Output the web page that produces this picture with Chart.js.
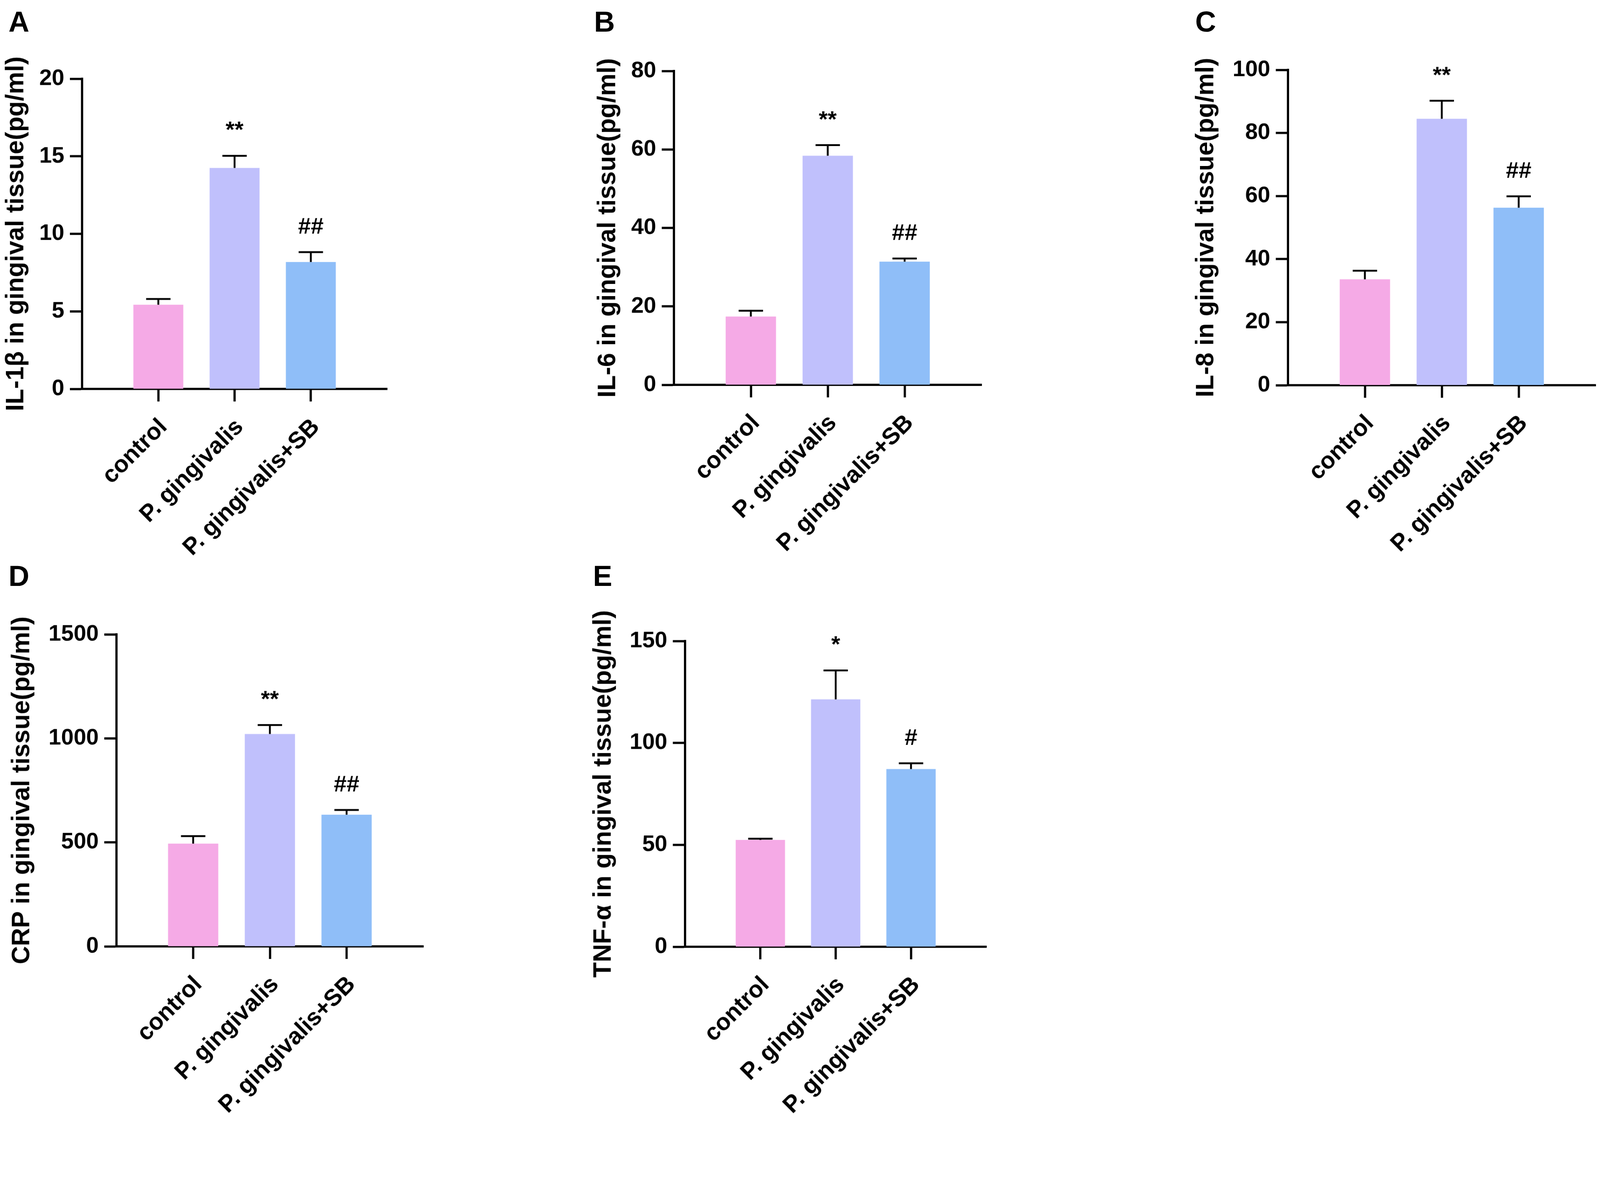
<!DOCTYPE html>
<html>
<head>
<meta charset="utf-8">
<script src="https://cdn.jsdelivr.net/npm/chart.js@4.4.1/dist/chart.umd.min.js"></script>
<style>
  html, body { margin: 0; padding: 0; background: #ffffff; overflow: hidden; }
  #stage { position: absolute; left: 0; top: 0; width: 4328px; height: 3026px; transform-origin: 0 0; background: #fff; }
  canvas.panel { position: absolute; }
  .letter { position: absolute; font: bold 78px "Liberation Sans", Arial, sans-serif; line-height: 1; color: #000; }
</style>
</head>
<body>
<div id="stage">
  <div class="letter" style="left:23px;top:20px;">A</div>
  <div class="letter" style="left:1607px;top:20px;">B</div>
  <div class="letter" style="left:3233px;top:20px;">C</div>
  <div class="letter" style="left:23px;top:1519px;">D</div>
  <div class="letter" style="left:1604px;top:1519px;">E</div>

  <canvas id="cA" class="panel"></canvas>
  <canvas id="cB" class="panel"></canvas>
  <canvas id="cC" class="panel"></canvas>
  <canvas id="cD" class="panel"></canvas>
  <canvas id="cE" class="panel"></canvas>
</div>

<script>
// ---------------- DATA ----------------
const categories = ['control', 'P. gingivalis', 'P. gingivalis+SB'];
const barColors = ['#F5AAE6', '#C0C0FC', '#8FBEF8'];

const il1bMean = [5.43, 14.25, 8.18];
const il1bSem  = [0.37, 0.78, 0.64];
const il1bSig  = ['', '**', '##'];
const il1bTicks = [0, 5, 10, 15, 20];

const il6Mean = [17.4, 58.4, 31.4];
const il6Sem  = [1.5, 2.7, 0.8];
const il6Sig  = ['', '**', '##'];
const il6Ticks = [0, 20, 40, 60, 80];

const il8Mean = [33.6, 84.5, 56.3];
const il8Sem  = [2.7, 5.7, 3.6];
const il8Sig  = ['', '**', '##'];
const il8Ticks = [0, 20, 40, 60, 80, 100];

const crpMean = [494, 1021, 633];
const crpSem  = [36, 43, 23];
const crpSig  = ['', '**', '##'];
const crpTicks = [0, 500, 1000, 1500];

const tnfMean = [52.4, 121.4, 87.2];
const tnfSem  = [0.6, 14.2, 2.8];
const tnfSig  = ['', '*', '#'];
const tnfTicks = [0, 50, 100, 150];

// ---------------- FIT PAGE TO VIEWPORT ----------------
(function fitStage() {
  const st = document.getElementById('stage');
  const s = Math.min(window.innerWidth / 4328, window.innerHeight / 3026);
  st.style.transform = 'scale(' + s + ')';
})();

const FONT = '"Liberation Sans", Arial, Helvetica, sans-serif';

const errPlugin = {
  id: 'errbars',
  afterDatasetsDraw(chart, args, opts) {
    const ctx = chart.ctx;
    const xs = chart.scales.x, ys = chart.scales.y;
    const vals = chart.data.datasets[0].data;
    ctx.save();
    ctx.strokeStyle = '#000';
    ctx.fillStyle = '#000';
    ctx.lineWidth = 5;
    vals.forEach((pt, i) => {
      const cx = xs.getPixelForValue(pt.x);
      const y0 = ys.getPixelForValue(pt.y);
      const y1 = ys.getPixelForValue(pt.y + opts.sem[i]);
      ctx.beginPath();
      ctx.moveTo(cx, y0); ctx.lineTo(cx, y1);
      ctx.moveTo(cx - 33, y1); ctx.lineTo(cx + 33, y1);
      ctx.stroke();
      const s = opts.sig[i];
      if (s) {
        ctx.font = 'bold 62px ' + FONT;
        ctx.textAlign = 'center';
        ctx.textBaseline = 'alphabetic';
        ctx.fillText(s, cx, y1 - 50);
      }
    });
    ctx.restore();
  }
};

function makePanel(id, box, mean, sem, sig, ticks, title) {
  const cv = document.getElementById(id);
  cv.width = box.w; cv.height = box.h;
  cv.style.left = box.left + 'px'; cv.style.top = box.top + 'px';
  cv.style.width = box.w + 'px'; cv.style.height = box.h + 'px';
  return new Chart(cv, {
    type: 'bar',
    data: {
      datasets: [{
        data: mean.map((v, i) => ({ x: i + 1, y: v })),
        backgroundColor: barColors,
        borderWidth: 0,
        categoryPercentage: 1.0,
        barPercentage: 0.655
      }]
    },
    plugins: [errPlugin],
    options: {
      responsive: false,
      animation: false,
      devicePixelRatio: 1,
      layout: { padding: { left: box.padL, top: box.padT, right: box.padR, bottom: 0 } },
      plugins: {
        legend: { display: false },
        tooltip: { enabled: false },
        errbars: { sem: sem, sig: sig }
      },
      scales: {
        x: {
          type: 'linear', min: 0, max: 4, offset: false,
          afterBuildTicks: s => { s.ticks = categories.map((c, i) => ({ value: i + 1 })); },
          afterFit: s => { s.height = box.xH; },
          grid: { display: true, drawOnChartArea: false, drawTicks: true, tickLength: 34, tickWidth: 6, tickColor: '#000', offset: false },
          border: { display: true, color: '#000', width: 6 },
          ticks: {
            autoSkip: false, maxRotation: 45, minRotation: 45, padding: 32, labelOffset: 14, color: '#000',
            font: { family: FONT, size: 64, weight: 'bold' },
            callback: v => categories[v - 1] !== undefined ? categories[v - 1] : ''
          }
        },
        y: {
          type: 'linear', min: 0, max: ticks[ticks.length - 1],
          afterBuildTicks: s => { s.ticks = ticks.map(v => ({ value: v })); },
          afterFit: s => { s.width = box.yW; },
          grid: { display: true, drawOnChartArea: false, drawTicks: true, tickLength: 33, tickWidth: 6, tickColor: '#000' },
          border: { display: true, color: '#000', width: 6 },
          ticks: {
            padding: 15, color: '#000',
            font: { family: FONT, size: 61, weight: 'bold' },
            callback: v => String(v)
          },
          title: {
            display: true, text: title, color: '#000', padding: 0,
            font: { family: FONT, size: 68, weight: 'bold' }
          }
        }
      }
    }
  });
}

makePanel('cA', { left: 0, top: 0, w: 1120, h: 1560, padL: 3, padT: 213, padR: 73, yW: 219, xH: 508 },
  il1bMean, il1bSem, il1bSig, il1bTicks, 'IL-1β in gingival tissue(pg/ml)');
makePanel('cB', { left: 1560, top: 0, w: 1150, h: 1560, padL: 44, padT: 192, padR: 55, yW: 219, xH: 519 },
  il6Mean, il6Sem, il6Sig, il6Ticks, 'IL-6 in gingival tissue(pg/ml)');
makePanel('cC', { left: 3170, top: 0, w: 1158, h: 1560, padL: 52, padT: 189, padR: 12, yW: 262, xH: 518 },
  il8Mean, il8Sem, il8Sig, il8Ticks, 'IL-8 in gingival tissue(pg/ml)');
makePanel('cD', { left: 0, top: 1500, w: 1200, h: 1526, padL: 19, padT: 216, padR: 55, yW: 296, xH: 466 },
  crpMean, crpSem, crpSig, crpTicks, 'CRP in gingival tissue(pg/ml)');
makePanel('cE', { left: 1560, top: 1500, w: 1200, h: 1526, padL: 32, padT: 234, padR: 92, yW: 261, xH: 465 },
  tnfMean, tnfSem, tnfSig, tnfTicks, 'TNF-α in gingival tissue(pg/ml)');
</script>
</body>
</html>
